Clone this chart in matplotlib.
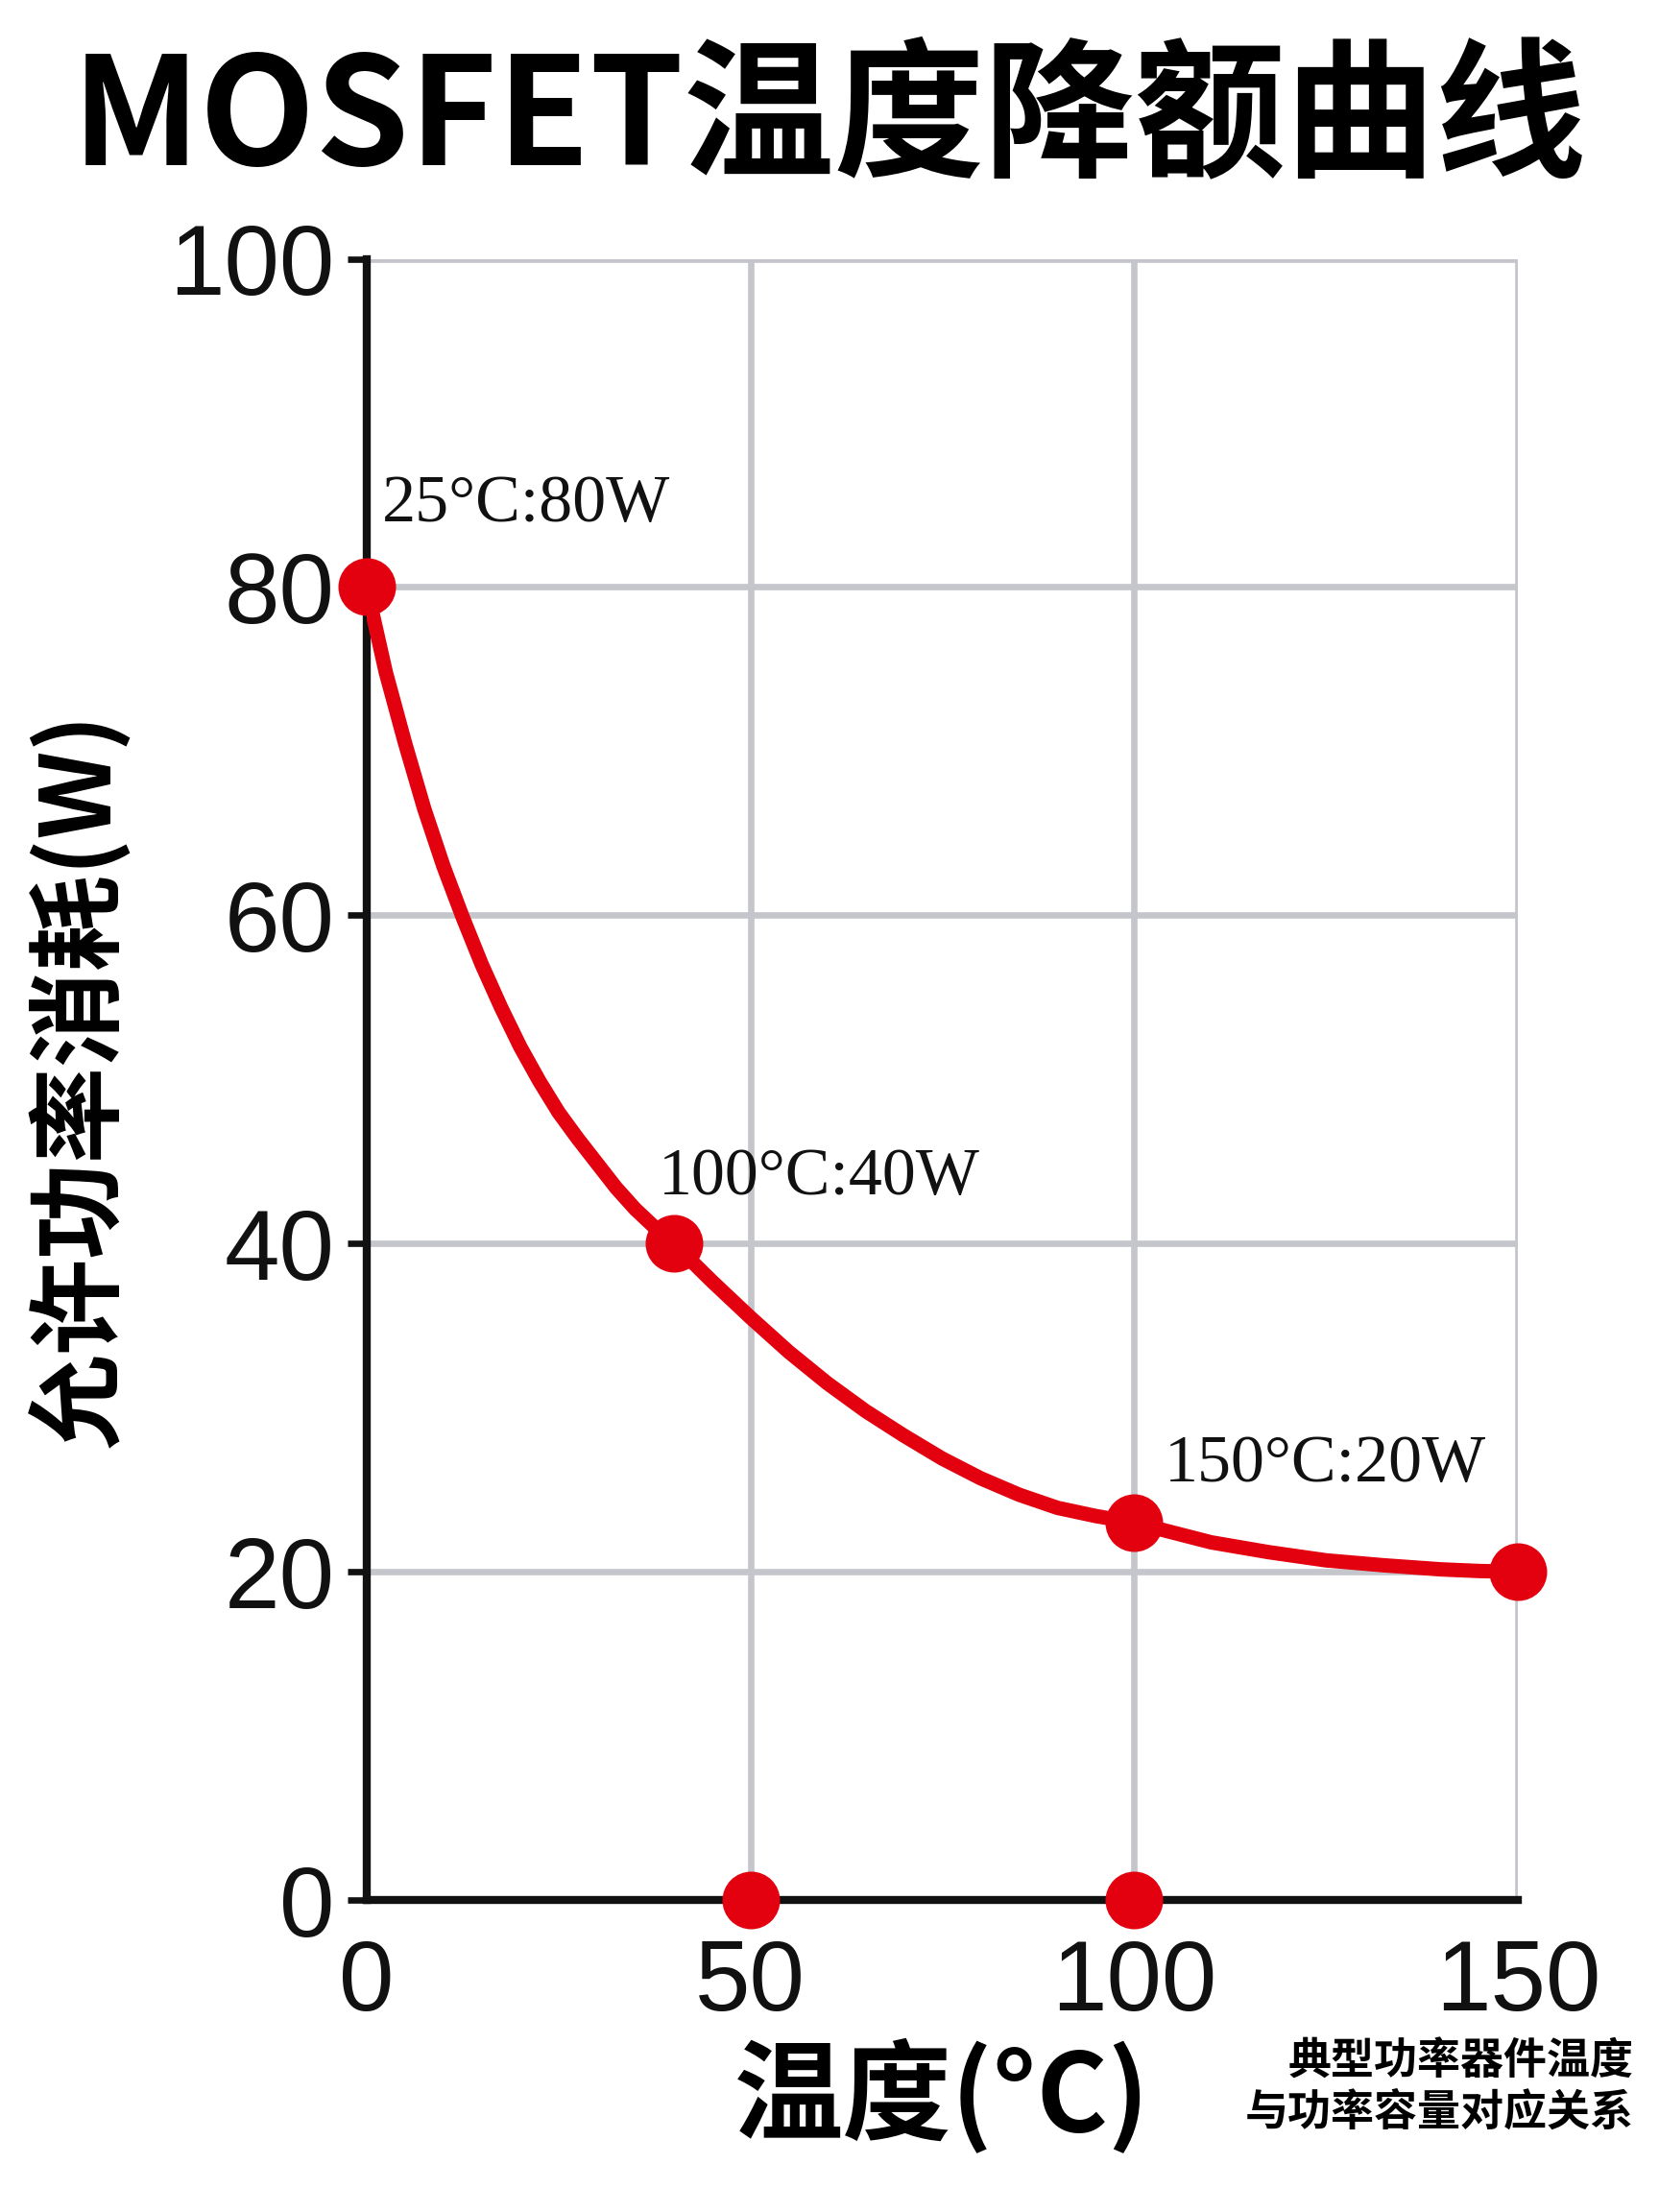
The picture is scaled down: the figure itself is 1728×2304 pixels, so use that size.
import matplotlib
matplotlib.use("Agg")
import matplotlib.pyplot as plt

plt.rcParams['font.family'] = ['Noto Sans CJK SC', 'DejaVu Sans']

curve_x = [0, 2.5, 5, 7.5, 10, 12.5, 15, 17.5, 20, 22.5, 25, 27.5, 30, 32.5, 35, 37.5, 40, 45, 50, 55, 60, 65, 70, 75,
           80, 85, 90, 95, 100, 105, 110, 117.5, 125, 132.5, 140, 145, 150]
curve_y = [80, 74.8, 70.5, 66.5, 63, 59.9, 57, 54.4, 52, 49.9, 48, 46.4, 44.9, 43.4, 42.1, 41, 40, 37.7, 35.5, 33.4, 31.5,
           29.8, 28.3, 26.9, 25.7, 24.7, 23.9, 23.4, 23, 22.4, 21.8, 21.2, 20.7, 20.4, 20.15, 20.05, 20]
marker_x = [0, 40, 100, 150, 50, 100]
marker_y = [80, 40, 23, 20, 0, 0]
labels = ["25°C:80W", "100°C:40W", "150°C:20W"]
label_pos = [(2, 84), (38, 43), (104, 25.5)]
xticks = [0, 50, 100, 150]
yticks = [0, 20, 40, 60, 80, 100]

fig = plt.figure(figsize=(7.2, 9.6), dpi=240)
ax = fig.add_axes([0.221, 0.141, 0.694, 0.742])
red = '#e3000f'
ax.plot(curve_x, curve_y, color=red, lw=4.5, solid_capstyle='round', solid_joinstyle='round', zorder=3)
ax.plot(marker_x, marker_y, 'o', color=red, ms=17, zorder=4, clip_on=False)
for t, (x, y) in zip(labels, label_pos):
    ax.text(x, y, t, fontsize=21, family=['Liberation Serif', 'DejaVu Serif'], color='#111111')
ax.set_xlim(0, 150)
ax.set_ylim(0, 100)
ax.set_xticks(xticks)
ax.set_yticks(yticks)
ax.grid(True, color='#c4c6cc', lw=2)
ax.set_axisbelow(True)
for s in ['top', 'right']:
    ax.spines[s].set_visible(False)
for s in ['left', 'bottom']:
    ax.spines[s].set_linewidth(2.5)
    ax.spines[s].set_color('#111111')
ax.tick_params(axis='both', labelsize=31, width=2, length=6, colors='#111111', pad=4)
ax.tick_params(axis='x', length=0, pad=12)
for lab in ax.get_xticklabels() + ax.get_yticklabels():
    lab.set_family(['Liberation Sans', 'DejaVu Sans'])
ax.set_xlabel("温度(°C)", fontsize=34, fontweight='bold', labelpad=2)
ax.set_ylabel("允许功率消耗(W)", fontsize=30, fontweight='bold', labelpad=12)
ax.xaxis.set_label_coords(0.5, -0.085)
fig.text(0.5, 0.98, "MOSFET温度降额曲线", fontsize=47, fontweight='bold', va='top', ha='center')
fig.text(0.985, 0.035, "典型功率器件温度\n与功率容量对应关系", fontsize=13.5, fontweight='bold',
         ha='right', va='bottom', linespacing=1.2)
fig.savefig("out.png", dpi=240, facecolor='white')
